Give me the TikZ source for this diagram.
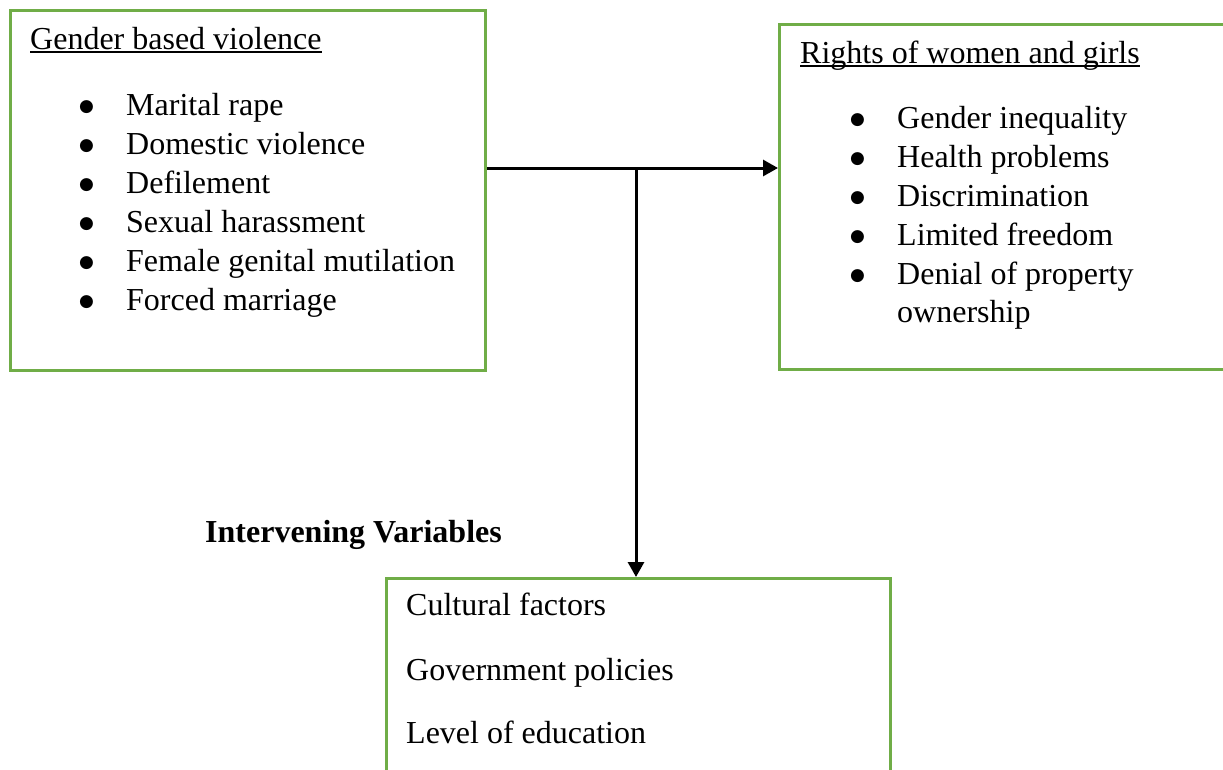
\documentclass[tikz,border=0pt]{standalone}
\usepackage{fontspec}
\setmainfont{Liberation Serif}
\newfontfamily\dotfont{DejaVu Sans}
\usetikzlibrary{arrows.meta}

\definecolor{boxgreen}{RGB}{112,173,71}
\newcommand{\bul}{\makebox[47pt][l]{\raisebox{3.5pt}{\dotfont\fontsize{17}{17}\selectfont ●}}}

\tikzset{
  box/.style={draw=boxgreen, line width=3pt, anchor=north west, inner sep=0pt},
  txt/.style={anchor=base west, inner sep=0pt, font=\fontsize{32}{39}\selectfont},
  link/.style={line width=3pt, -{Triangle[length=15pt,width=16pt]}},
  uline/.style={line width=1.8pt},
}

\begin{document}
\begin{tikzpicture}[x=1pt,y=-1pt]
    \useasboundingbox (0,0) rectangle (1223,769);
    \clip (0,0) rectangle (1223,769);

    % The three boxes (right one and bottom one run off the page)
    \node[box, minimum width=475pt, minimum height=360pt] (gbv) at (9,9) {};
    \node[box, minimum width=470pt, minimum height=345pt] (rights) at (778,23) {};
    \node[box, minimum width=504pt, minimum height=230pt] (inter) at (385,577) {};

    % Gender based violence
    \node[txt] (gbvtitle) at (30,49) {Gender based violence};
    \draw[uline] ([yshift=-3pt]gbvtitle.base west) -- ([yshift=-3pt]gbvtitle.base east);
    \node[txt] (gbv1) at (79,115) {\bul Marital rape};
    \node[txt] (gbv2) at (79,154) {\bul Domestic violence};
    \node[txt] (gbv3) at (79,193) {\bul Defilement};
    \node[txt] (gbv4) at (79,232) {\bul Sexual harassment};
    \node[txt] (gbv5) at (79,271) {\bul Female genital mutilation};
    \node[txt] (gbv6) at (79,310) {\bul Forced marriage};

    % Rights of women and girls
    \node[txt] (rtitle) at (800,63) {Rights of women and girls};
    \draw[uline] ([yshift=-3pt]rtitle.base west) -- ([yshift=-3pt]rtitle.base east);
    \node[txt] (r1) at (850,128) {\bul Gender inequality};
    \node[txt] (r2) at (850,167) {\bul Health problems};
    \node[txt] (r3) at (850,206) {\bul Discrimination};
    \node[txt] (r4) at (850,245) {\bul Limited freedom};
    \node[txt] (r5) at (850,284) {\bul Denial of property};
    \node[txt] (r6) at (897,322) {ownership};

    % Intervening variables
    \node[txt, font=\fontsize{32}{39}\selectfont\bfseries] (ivlabel) at (205,542) {Intervening Variables};
    \node[txt] (iv1) at (406,615) {Cultural factors};
    \node[txt] (iv2) at (406,680) {Government policies};
    \node[txt] (iv3) at (406,743) {Level of education};

    % Arrows
    \coordinate (split) at (636,168);
    \draw[link] (gbv.east |- split) -- (rights.west |- split);
    \draw[link] (split) -- (split |- inter.north);
\end{tikzpicture}
\end{document}
